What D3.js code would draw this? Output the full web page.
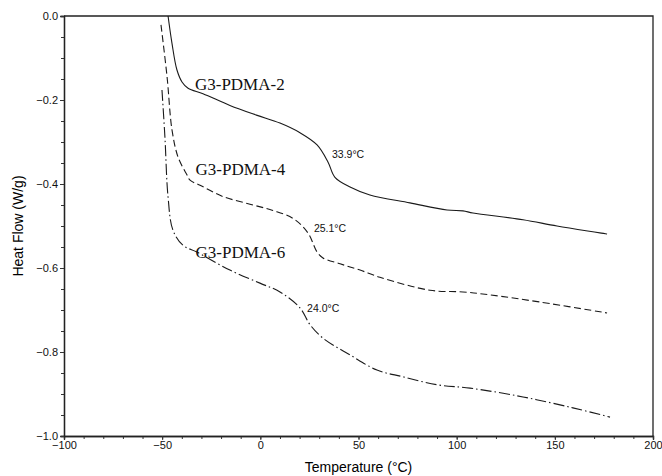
<!DOCTYPE html>
<html>
<head>
<meta charset="utf-8">
<script src="https://cdn.jsdelivr.net/npm/d3@7"></script>
<style>
  body { margin: 0; background: #fff; }
  svg { display: block; }
  .tick text { font-family: "Liberation Sans", Arial, sans-serif; font-size: 11px; fill: #111; }
</style>
</head>
<body>
<svg id="chart"></svg>
<script>
// DSC traces: [temperature °C, heat flow W/g]
const pdma2 = [
  [-47.0, 0.000], [-45.0, -0.065], [-42.5, -0.128], [-39.9, -0.157], [-36.8, -0.172],
  [-29.2, -0.185], [-15.5, -0.213], [-2.0, -0.236], [10.0, -0.255], [20.2, -0.278],
  [28.9, -0.307], [34.5, -0.348], [38.0, -0.384], [45.7, -0.407], [55.8, -0.426],
  [76.2, -0.445], [95.1, -0.462], [103.2, -0.464], [108.3, -0.469], [133.8, -0.485],
  [151.1, -0.500], [176.6, -0.519]
]
const pdma4 = [
  [-50.6, -0.021], [-47.5, -0.145], [-45.0, -0.271], [-41.9, -0.336], [-37.4, -0.378],
  [-35.8, -0.391], [-30.7, -0.403], [-19.0, -0.430], [-5.3, -0.448], [6.4, -0.463],
  [17.0, -0.483], [24.3, -0.517], [28.9, -0.562], [31.9, -0.576], [40.6, -0.590],
  [50.8, -0.605], [60.9, -0.622], [86.4, -0.653], [103.2, -0.657], [117.0, -0.664],
  [142.4, -0.681], [176.6, -0.707]
]
const pdma6 = [
  [-50.1, -0.176], [-48.6, -0.288], [-47.0, -0.431], [-44.5, -0.510], [-39.4, -0.546],
  [-32.3, -0.562], [-15.5, -0.605], [-0.2, -0.636], [10.0, -0.657], [20.2, -0.695],
  [25.3, -0.735], [31.9, -0.767], [45.7, -0.807], [59.4, -0.843], [72.7, -0.859],
  [90.0, -0.878], [106.8, -0.886], [133.8, -0.907], [159.2, -0.933], [178.1, -0.955]
]

const seriesNames = ['G3-PDMA-2', 'G3-PDMA-4', 'G3-PDMA-6']
// where each series name starts: [temp, heat flow] at its baseline
const nameAnchors = [[-33.3, -0.176], [-33.0, -0.379], [-33.0, -0.576]]
const tgLabels = ['33.9°C', '25.1°C', '24.0°C']
const tgAnchors = [[36.5, -0.338], [27.3, -0.514], [23.8, -0.705]]

const xTicks = [-100, -50, 0, 50, 100, 150, 200]
const yTicks = [0.0, -0.2, -0.4, -0.6, -0.8, -1.0]

const width = 662, height = 476
const margin = { top: 16, right: 9, bottom: 40, left: 64 }

const svg = d3.select('#chart').attr('width', width).attr('height', height)

const x = d3.scaleLinear().domain([-100, 200]).range([margin.left, width - margin.right])
const y = d3.scaleLinear().domain([-1, 0]).range([height - margin.bottom, margin.top])

// minor ticks first, then major ticks with labels
svg.append('g')
  .attr('transform', `translate(0,${y(-1)})`)
  .call(d3.axisBottom(x).tickValues(d3.range(-100, 201, 10)).tickSize(3).tickFormat(''))
svg.append('g')
  .attr('transform', `translate(${x(-100)},0)`)
  .call(d3.axisLeft(y).tickValues(d3.range(0, 21).map(i => -i * 0.05)).tickSize(3).tickFormat(''))

svg.append('g')
  .attr('transform', `translate(0,${y(-1)})`)
  .call(d3.axisBottom(x).tickValues(xTicks).tickSize(4).tickPadding(1).tickFormat(d3.format('d')))
svg.append('g')
  .attr('transform', `translate(${x(-100)},0)`)
  .call(d3.axisLeft(y).tickValues(yTicks).tickSize(4).tickPadding(2).tickFormat(d3.format('.1f')))

svg.selectAll('.domain').attr('stroke', '#222').attr('stroke-width', 1.3)
svg.selectAll('.tick line').attr('stroke', '#333')

// frame top and right
svg.append('path')
  .attr('d', `M${x(-100)},${y(0)}H${x(200)}V${y(-1)}`)
  .attr('fill', 'none').attr('stroke', '#222').attr('stroke-width', 1.3)

const line = d3.line().x(d => x(d[0])).y(d => y(d[1])).curve(d3.curveCatmullRom.alpha(0.5))

const traces = [pdma2, pdma4, pdma6]
const dashes = [null, '7,3.5', '11,3,1.5,3']
traces.forEach((t, i) => {
  svg.append('path')
    .datum(t)
    .attr('d', line)
    .attr('fill', 'none')
    .attr('stroke', '#1a1a1a')
    .attr('stroke-width', 1.1)
    .attr('stroke-dasharray', dashes[i])
})

svg.selectAll('.name')
  .data(seriesNames)
  .join('text')
  .attr('x', (d, i) => x(nameAnchors[i][0]))
  .attr('y', (d, i) => y(nameAnchors[i][1]))
  .attr('font-family', '"Liberation Serif", "Times New Roman", serif')
  .attr('font-size', 17)
  .attr('fill', '#111')
  .text(d => d)

svg.selectAll('.tg')
  .data(tgLabels)
  .join('text')
  .attr('x', (d, i) => x(tgAnchors[i][0]))
  .attr('y', (d, i) => y(tgAnchors[i][1]))
  .attr('font-family', '"Liberation Sans", Arial, sans-serif')
  .attr('font-size', 10.5)
  .attr('fill', '#111')
  .text(d => d)

svg.append('text')
  .attr('x', x(50))
  .attr('y', height - 4)
  .attr('text-anchor', 'middle')
  .attr('font-family', '"Liberation Sans", Arial, sans-serif')
  .attr('font-size', 14)
  .text('Temperature (°C)')

svg.append('text')
  .attr('transform', `translate(23,${y(-0.5)}) rotate(-90)`)
  .attr('text-anchor', 'middle')
  .attr('font-family', '"Liberation Sans", Arial, sans-serif')
  .attr('font-size', 14)
  .text('Heat Flow (W/g)')
</script>
</body>
</html>
